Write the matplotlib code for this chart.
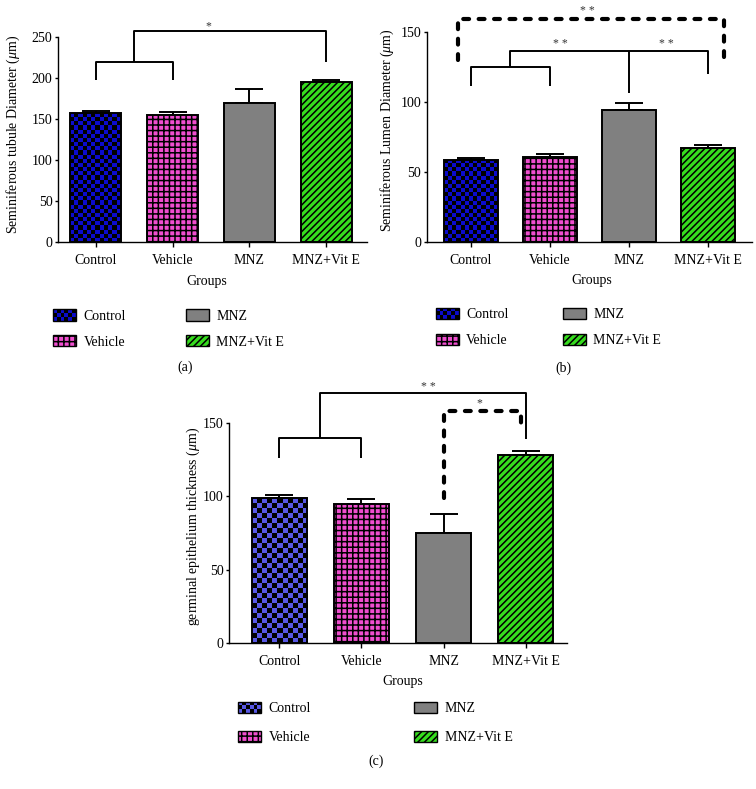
import numpy as np
import matplotlib
matplotlib.use('Agg')
import matplotlib.pyplot as plt
from matplotlib.patches import Patch, Rectangle
from matplotlib.colors import ListedColormap
from matplotlib.legend_handler import HandlerBase

plt.rcParams['font.family'] = ['Liberation Serif', 'DejaVu Serif']
plt.rcParams['mathtext.fontset'] = 'custom'
plt.rcParams['mathtext.rm'] = 'Liberation Serif'
plt.rcParams['mathtext.it'] = 'Liberation Serif:italic'
plt.rcParams['hatch.linewidth'] = 1.1
plt.rcParams['axes.linewidth'] = 1.0

# ---- data ----
groups = ['Control', 'Vehicle', 'MNZ', 'MNZ+Vit E']

tubule_mean = [157, 155, 169, 195]
tubule_err = [3, 3.5, 17, 3]

lumen_mean = [58.5, 60.8, 94, 67]
lumen_err = [1.5, 2, 4.8, 2]

germinal_mean = [99, 95, 75, 128]
germinal_err = [2.2, 3, 13, 3.4]

# significance brackets: (x list, y list)
tubule_brackets = [([0, 0, 1, 1], [197, 219.5, 219.5, 197]),
                   ([0.5, 0.5, 3, 3], [219.5, 257, 257, 220])]
tubule_stars = [(1.47, 263, '*')]

lumen_brackets = [([0, 0, 1, 1], [111, 124.6, 124.6, 111]),
                  ([0.5, 0.5, 3, 3], [124.6, 136.5, 136.5, 120]),
                  ([2, 2], [106, 136.5])]
lumen_dashed = [([-0.16, -0.16, 3.21, 3.21], [130, 158.8, 158.8, 130])]
lumen_stars = [(1.13, 141, '* *'), (2.48, 141, '* *'), (1.48, 165, '* *')]

germinal_brackets = [([0, 0, 1, 1], [126, 139.8, 139.8, 126]),
                     ([0.5, 0.5, 3, 3], [139.8, 171, 171, 139])]
germinal_dashed = [([2, 2, 2.94, 2.94], [98.8, 158.7, 158.7, 146])]
germinal_stars = [(1.81, 174.5, '* *'), (2.44, 163.5, '*')]

blue_dark = '#0B0BCC'
blue_light = '#5858E4'
pink = '#F04ECF'
gray = '#808080'
green = '#36DC1E'

W, H = 756, 789
FS = 10
fig = plt.figure(figsize=(W / 100, H / 100), dpi=100)


def checker_fill(ax, bar, color, cell_px):
    x0, w, h = bar.get_x(), bar.get_width(), bar.get_height()
    (px0, py0), (px1, py1) = ax.transData.transform([(x0, 0), (x0 + w, h)])
    nx = max(1, int(round((px1 - px0) / cell_px)))
    ny = max(1, int(round((py1 - py0) / cell_px)))
    grid = np.add.outer(np.arange(ny), np.arange(nx)) % 2
    im = ax.imshow(grid, extent=(x0, x0 + w, 0, h), origin='lower',
                   cmap=ListedColormap([color, 'black']), interpolation='nearest',
                   aspect='auto', zorder=1.9)
    im.set_clip_path(bar)


class CheckerHandler(HandlerBase):
    def __init__(self, color, nx=6, ny=3):
        super().__init__()
        self.color, self.nx, self.ny = color, nx, ny

    def create_artists(self, legend, orig_handle, xdescent, ydescent,
                       width, height, fontsize, trans):
        arts = [Rectangle((-xdescent, -ydescent), width, height, fc=self.color,
                          ec='none', transform=trans)]
        cw, ch = width / self.nx, height / self.ny
        for i in range(self.nx):
            for j in range(self.ny):
                if (i + j) % 2:
                    arts.append(Rectangle((-xdescent + i * cw, -ydescent + j * ch), cw, ch,
                                          fc='black', ec='none', transform=trans))
        arts.append(Rectangle((-xdescent, -ydescent), width, height, fc='none',
                              ec='black', lw=1.0, transform=trans))
        return arts


def panel(rect, xlim, ylim, yticks, means, errs, width, ctrl_color, cell_px,
          ylabel, ylab_x, ylab_y, xlab_pos, brackets, dashed, stars,
          leg_anchor, colspacing, labelspacing, tag, tag_pos):
    ax = fig.add_axes(rect)
    ax.set_xlim(*xlim)
    ax.set_ylim(*ylim)
    x = np.arange(len(groups))
    bars = ax.bar(x, means, width=width, color=['none', pink, gray, green],
                  edgecolor='black', linewidth=1.4, zorder=2)
    bars[1].set_hatch('+++')
    bars[3].set_hatch('/////')
    ax.errorbar(x, means, yerr=[np.zeros(len(errs)), errs], fmt='none', ecolor='black',
                elinewidth=1.4, capsize=10, capthick=1.4, zorder=1)
    checker_fill(ax, bars[0], ctrl_color, cell_px)
    ax.set_xlim(*xlim)
    ax.set_ylim(*ylim)

    for xs, ys in brackets:
        ax.plot(xs, ys, color='black', lw=1.4, clip_on=False, solid_capstyle='butt')
    for xs, ys in dashed:
        ax.plot(xs, ys, color='black', lw=3.0, clip_on=False,
                linestyle=(0, (1.4, 2.3)), dash_capstyle='round')
    for sx, sy, s in stars:
        ax.text(sx, sy, s, ha='center', va='center', fontsize=8.5, color='#333333',
                clip_on=False)

    for side in ['top', 'right']:
        ax.spines[side].set_visible(False)
    ax.set_xticks(x)
    ax.set_xticklabels(groups)
    ax.set_yticks(yticks)
    ax.tick_params(axis='x', direction='out', length=3.5, width=1, pad=5.5, labelsize=FS)
    ax.tick_params(axis='y', direction='out', length=2.5, width=1, pad=1.5, labelsize=FS)
    ax.set_ylabel(ylabel, fontsize=FS)
    ax.yaxis.set_label_coords(ylab_x, ylab_y)
    ax.set_xlabel('Groups', fontsize=FS)
    ax.xaxis.set_label_coords(*xlab_pos)

    handles = [Patch(label='Control'),
               Patch(facecolor=pink, edgecolor='black', hatch='+++', label='Vehicle'),
               Patch(facecolor=gray, edgecolor='black', label='MNZ'),
               Patch(facecolor=green, edgecolor='black', hatch='/////', label='MNZ+Vit E')]
    ax.legend(handles=handles, ncol=2, frameon=False, loc='upper left',
              bbox_to_anchor=leg_anchor, bbox_transform=fig.transFigure,
              borderpad=0, borderaxespad=0, fontsize=FS,
              handlelength=1.65, handleheight=0.85, handletextpad=0.55,
              columnspacing=colspacing, labelspacing=labelspacing,
              handler_map={handles[0]: CheckerHandler(ctrl_color)})
    fig.text(tag_pos[0] / W, 1 - tag_pos[1] / H, tag, ha='center', va='center', fontsize=FS)
    return ax


panel([58 / W, 1 - 242 / H, 309 / W, 205 / H], (-0.49, 3.53), (0, 250),
      [0, 50, 100, 150, 200, 250], tubule_mean, tubule_err, 0.66, blue_dark, 4.2,
      r'Seminiferous tubule Diameter ($\mu$m)', -0.118, 0.527, (0.482, -0.163),
      tubule_brackets, [], tubule_stars,
      (53 / W, 1 - 309.5 / H), 4.3, 0.9, '(a)', (185, 367))

panel([426.7 / W, 1 - 242 / H, 325.3 / W, 210.3 / H], (-0.56, 3.56), (0, 150),
      [0, 50, 100, 150], lumen_mean, lumen_err, 0.68, blue_dark, 4.2,
      r'Seminiferous Lumen Diameter ($\mu$m)', -0.093, 0.533, (0.507, -0.153),
      lumen_brackets, lumen_dashed, lumen_stars,
      (435.7 / W, 1 - 307.8 / H), 3.9, 0.9, '(b)', (563.3, 368.3))

panel([229.3 / W, 1 - 642.7 / H, 337.4 / W, 219.4 / H], (-0.61, 3.50), (0, 150),
      [0, 50, 100, 150], germinal_mean, germinal_err, 0.67, blue_light, 5.0,
      r'germinal epithelium thickness ($\mu$m)', -0.082, 0.529, (0.514, -0.148),
      germinal_brackets, germinal_dashed, germinal_stars,
      (238.3 / W, 1 - 701.8 / H), 7.4, 1.15, '(c)', (376, 761.7))

fig.savefig('out.png', dpi=100)
